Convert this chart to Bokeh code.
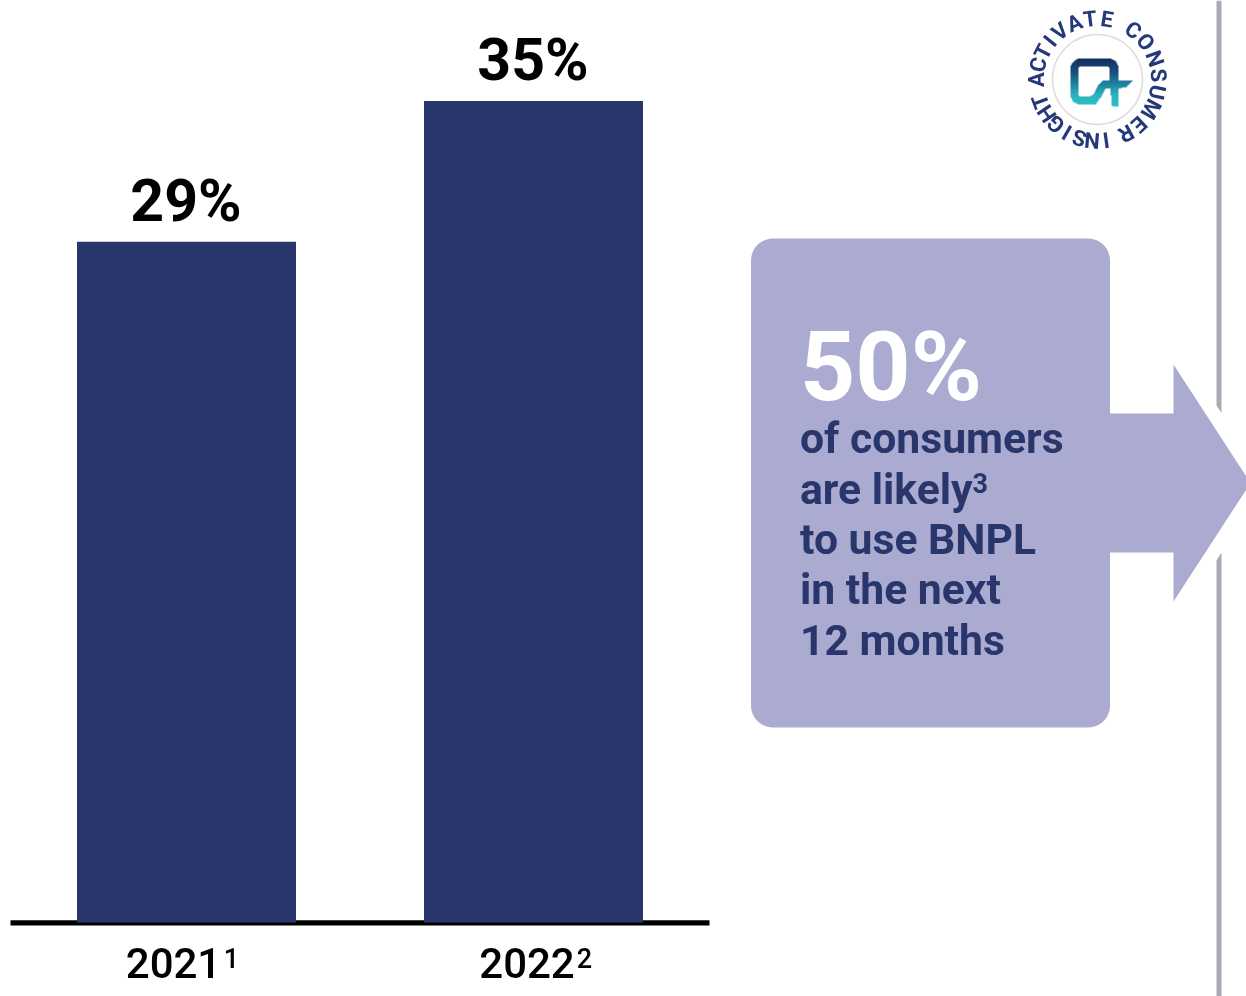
import numpy as np
from bokeh.embed import file_html
from bokeh.models import Range1d
from bokeh.plotting import figure
from bokeh.resources import INLINE
from bokeh.core.properties import value

# ---- data ----
years = ["2021", "2022"]
year_notes = ["1", "2"]
shares = [29, 35]
share_labels = ["29%", "35%"]
callout_big = "50%"
callout_lines = ["of consumers", "are likely", "to use BNPL", "in the next", "12 months"]
callout_note = "3"
logo_letters = list("INSIGHT") + list("ACTIVATE") + list("CONSUMER")
logo_angles = [172, 185, 197, 210, 223, 236, 249,
               -90, -76, -63, -51, -38, -22, -7, 9,
               36, 52, 70, 86, 102, 119, 137, 152]

# ---- colours ----
NAVY = "#29366b"
LILAC = "#ababd1"
GREY = "#a7abb3"
BADGE = "#25387a"

W, H = 1246, 996
# data scales: bar slots 0 and 1, value axis in percent; 347 px per slot, 23.47 px per point
x0_px, slot_px = 186.0, 347.0
base_px, unit_px = 922.0, 23.47

p = figure(width=W, height=H, output_backend="svg", toolbar_location=None,
           x_range=Range1d((0 - x0_px) / slot_px, (W - x0_px) / slot_px),
           y_range=Range1d((base_px - H) / unit_px, base_px / unit_px),
           min_border=0, outline_line_color=None, background_fill_color="white",
           border_fill_color="white",
           styles={"position": "fixed", "left": "0px", "top": "0px"})
p.axis.visible = False
p.grid.visible = False
p.extra_x_ranges["px"] = Range1d(0, W)
p.extra_y_ranges["px"] = Range1d(H, 0)
PX = dict(x_range_name="px", y_range_name="px")
ROBOTO = value("Roboto")
MEDIUM = value("Roboto Medium")

# divider, broken where the arrow passes
p.patch([1216, 1221, 1221, 1216], [0, 0, 412.5, 405], fill_color=GREY, line_color=None, **PX)
p.patch([1216, 1221, 1221, 1216], [560, 552, 996, 996], fill_color=GREY, line_color=None, **PX)

# baseline, then bars over it
p.quad(left=[10], right=[709], top=[919.7], bottom=[925], fill_color="black", line_color=None, **PX)
slots = list(range(len(shares)))
p.vbar(x=slots, top=shares, bottom=0, width=219 / slot_px, fill_color=NAVY, line_color=None)
p.text(x=slots, y=shares, text=share_labels, y_offset=[-41, -42], x_offset=[-0.5, -0.5],
       text_font=ROBOTO, text_font_style="bold", text_font_size="59px",
       text_color="black", text_align="center", text_baseline="middle")
p.text(x=slots, y=[962, 962], text=years, x_offset=[-13, -6.5], text_font=MEDIUM,
       text_font_size="42px", text_color="black", text_align="center",
       text_baseline="middle", y_range_name="px")
p.text(x=slots, y=[957, 957], text=year_notes, x_offset=[45, 51], text_font=MEDIUM,
       text_font_size="27px", text_color="black", text_align="center",
       text_baseline="middle", y_range_name="px")

# callout box with arrow
L, R, T, B, r = 750.5, 1109.5, 238, 727, 22
t = np.linspace(0, np.pi / 2, 12)
bx = list(L + r - r * np.cos(t)) + list(R - r + r * np.sin(t))
by = list(T + r - r * np.sin(t)) + list(T + r - r * np.cos(t))
bx += [R, R, 1173, 1173, 1250, 1173, 1173, R, R]
by += [T + r, 413, 413, 364, 482.5, 601, 552, 552, B - r]
bx += list(R - r + r * np.cos(t)) + list(L + r - r * np.sin(t))
by += list(B - r + r * np.sin(t)) + list(B - r + r * np.cos(t))
p.patch(bx, by, fill_color=LILAC, line_color=None, **PX)

p.text(x=[799.5], y=[366], text=[callout_big], text_font=ROBOTO, text_font_style="bold",
       text_font_size="96.5px", text_color="white", text_baseline="middle", **PX)
p.text(x=[799.5] * 5, y=[437, 488, 538, 588, 639], text=callout_lines, text_font=ROBOTO,
       text_font_style="bold", text_font_size="42.7px", text_color=NAVY,
       text_baseline="middle", **PX)
p.text(x=[972], y=[482], text=[callout_note], text_font=ROBOTO, text_font_style="bold",
       text_font_size="27px", text_color=NAVY, text_baseline="middle", **PX)

# logo badge
cx, cy = 1097.0, 79.0
p.circle(x=[cx], y=[cy], radius=45, radius_units="screen", fill_color=None,
         line_color="#dddddd", line_width=1.5, **PX)
for letter, ang in zip(logo_letters, logo_angles):
    a = np.radians(ang)
    p.text(x=[cx + 61 * np.sin(a)], y=[cy - 61 * np.cos(a)], text=[letter], angle=[-a],
           text_font=ROBOTO, text_font_style="bold", text_font_size="22px", text_color=BADGE,
           text_align="center", text_baseline="middle", **PX)

# logo mark, a gradient shape rasterised at 4x
SS = 4
ix0, ix1, iy0, iy1 = 1066, 1136, 54, 108
xs = ix0 + (np.arange((ix1 - ix0) * SS) + 0.5) / SS
ys = iy0 + (np.arange((iy1 - iy0) * SS) + 0.5) / SS
gx, gy = np.meshgrid(xs, ys)

def rrect(x0, x1, y0, y1, rad):
    qx = np.abs(gx - (x0 + x1) / 2) - (x1 - x0) / 2 + rad
    qy = np.abs(gy - (y0 + y1) / 2) - (y1 - y0) / 2 + rad
    return np.hypot(np.maximum(qx, 0), np.maximum(qy, 0)) + np.minimum(np.maximum(qx, qy), 0) - rad < 0

def band(pts, rad):
    out = np.zeros_like(gx, dtype=bool)
    for (ax, ay), (cx_, cy_) in zip(pts[:-1], pts[1:]):
        dx, dy = cx_ - ax, cy_ - ay
        u = np.clip(((gx - ax) * dx + (gy - ay) * dy) / (dx * dx + dy * dy), 0, 1)
        out |= np.hypot(gx - ax - u * dx, gy - ay - u * dy) < rad
    return out

ring = rrect(1070, 1118, 58, 104, 10) & ~rrect(1078, 1109, 66, 96, 2)
ring &= ~((gx > 1096) & (gy > 88))
swoosh = band([(1088, 99.5), (1094, 98.5), (1098, 93), (1100.5, 87), (1104, 84), (1110, 83.5)], 4.0)
swoosh &= ~((gx < 1090) & (gy < 96))
wing = (gx > 1103) & (gy > 80) & (gy < 88) & (gx < 1132 - (gy - 80) * 0.9) & (gy < 88 - (gx - 1118).clip(0) * 0.2)
tail = (gx > 1109.5) & (gx < 1118) & (gy > 86) & (gy < 105.5) & (gx > 1109.5 + (gy - 86) * 0.1)
mask = ring | swoosh | wing | tail

stops_y = np.array([58, 72, 84, 94, 104], float)
stops_c = np.array([[18, 46, 94], [24, 82, 128], [32, 134, 160], [44, 178, 190], [46, 192, 196]], float)
img = np.zeros(gx.shape + (4,), dtype=np.uint8)
for k in range(3):
    img[..., k] = np.interp(gy, stops_y, stops_c[:, k]).astype(np.uint8)
img[..., 3] = mask * 255
rgba = img.view(dtype=np.uint32).reshape(gx.shape)
p.image_rgba(image=[rgba], x=[ix0], y=[iy0], dw=[ix1 - ix0], dh=[iy1 - iy0], **PX)

open("out.html", "w").write(file_html(p, INLINE))
